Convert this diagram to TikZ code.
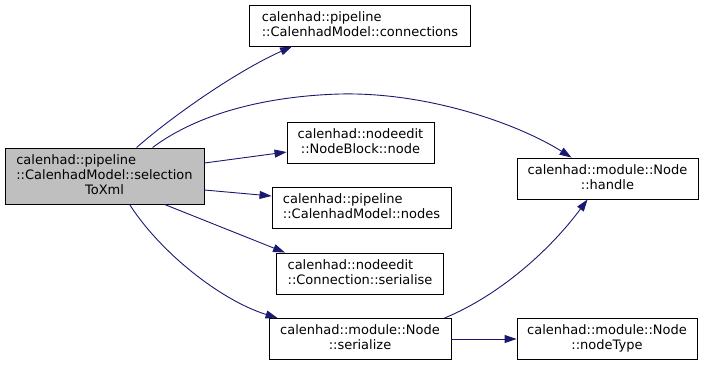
\documentclass[tikz,border=0pt]{standalone}
\usepackage{fontspec}
\setmainfont{DejaVu Sans}
\usetikzlibrary{arrows.meta}
\definecolor{edgeblue}{HTML}{191970}
\definecolor{mainfill}{HTML}{BFBFBF}
% label: leading lines flush left, last line centred
\newcommand{\dxlab}[2]{\begin{tabular}{@{}l@{}}#1\\\multicolumn{1}{@{}c@{}}{#2}\end{tabular}}
\newcommand{\dxlabiii}[3]{\begin{tabular}{@{}l@{}}#1\\#2\\\multicolumn{1}{@{}c@{}}{#3}\end{tabular}}
\begin{document}
\begin{tikzpicture}[x=1pt,y=-1pt,
  fn/.style={draw=black, line width=0.9pt, fill=white, inner sep=0pt,
    minimum height=41pt, font=\fontsize{13}{15}\selectfont},
  mainfn/.style={fn, fill=mainfill, minimum height=56pt},
  call/.style={draw=edgeblue, line width=0.9pt,
    -{Triangle[length=12pt,width=8pt]}, fill=none}]
\useasboundingbox (0,0) rectangle (703,365);

\node[mainfn, minimum width=199pt] (sel) at (104.5,176)
  {\dxlabiii{calenhad::pipeline}{::CalenhadModel::selection}{ToXml}};

\node[fn, minimum width=221pt] (conn) at (360,25.5)
  {\dxlab{calenhad::pipeline}{::CalenhadModel::connections}};
\node[fn, minimum width=147pt] (nbnode) at (360.5,142.5)
  {\dxlab{calenhad::nodeedit}{::NodeBlock::node}};
\node[fn, minimum width=179pt] (nodes) at (361.5,208)
  {\dxlab{calenhad::pipeline}{::CalenhadModel::nodes}};
\node[fn, minimum width=167pt] (cser) at (360,273.5)
  {\dxlab{calenhad::nodeedit}{::Connection::serialise}};
\node[fn, minimum width=182pt] (ser) at (360,339)
  {\dxlab{calenhad::module::Node}{::serialize}};

\node[fn, minimum width=181pt] (handle) at (607.5,178.5)
  {\dxlab{calenhad::module::Node}{::handle}};
\node[fn, minimum width=180pt] (ntype) at (607,339)
  {\dxlab{calenhad::module::Node}{::nodeType}};

% calls made by selectionToXml
\draw[call] ([xshift=132pt]sel.north west)
  .. controls (170,118) and (235,72) .. ([xshift=43pt]conn.south west);
\draw[call] ([xshift=148pt]sel.north west)
  .. controls (200,112) and (270,96) .. (340,94)
  .. controls (430,92) and (520,125) .. ([xshift=55pt]handle.north west);
\draw[call] ([yshift=13pt]sel.east) -- ([yshift=-9.5pt]nbnode.west);
\draw[call] ([yshift=-14pt]sel.east) -- ([yshift=12pt]nodes.west);
\draw[call] ([xshift=160pt]sel.south west) -- ([xshift=9pt]cser.north west);
\draw[call] ([xshift=125pt]sel.south west)
  .. controls (160,252) and (220,300) .. ([xshift=9pt]ser.north west);

% calls made by serialize
\draw[call] ([xshift=176pt]ser.north west)
  .. controls (500,295) and (550,250) .. ([xshift=71pt]handle.south west);
\draw[call] (ser.east) -- (ntype.west);
\end{tikzpicture}
\end{document}
